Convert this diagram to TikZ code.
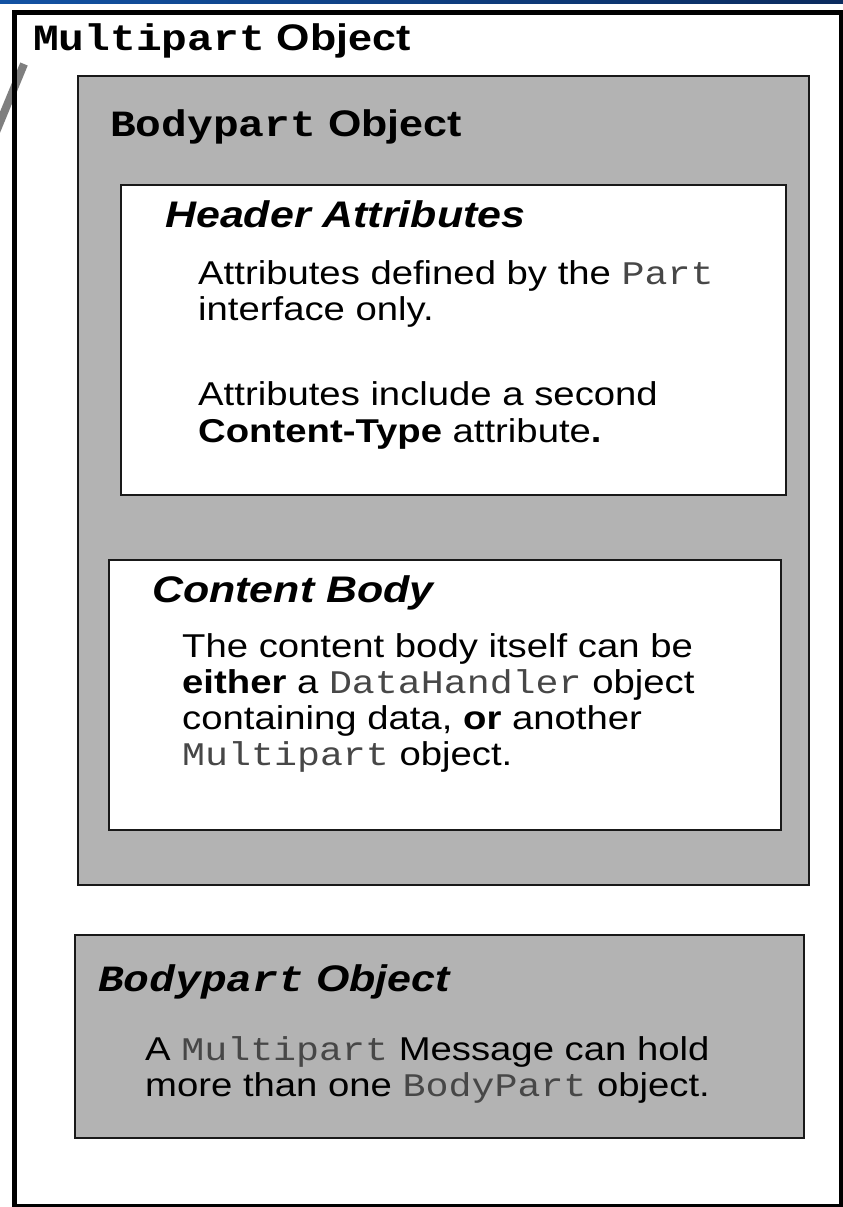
\documentclass[tikz,border=0pt]{standalone}
\usepackage{fontspec}
\setmainfont{Liberation Sans}[FakeStretch=1.16]
\setmonofont{Liberation Mono}[FakeStretch=1.16]
\definecolor{boxgray}{HTML}{B3B3B3}
\definecolor{bandA}{HTML}{1252A3}
\definecolor{bandB}{HTML}{0B2B5E}
\definecolor{slant}{HTML}{7F7F7F}
\newcommand{\mt}[1]{{\ttfamily\color{black!72}#1}}
\begin{document}
\begin{tikzpicture}[x=1pt,y=-1pt,
  graybox/.style={draw=black!90,line width=2pt,fill=boxgray,anchor=north west,inner sep=0pt},
  whitebox/.style={draw=black!90,line width=2pt,fill=white,anchor=north west,inner sep=0pt},
  head/.style={anchor=base west,inner sep=0pt,font=\fontsize{37}{42}\selectfont\bfseries},
  headit/.style={anchor=base west,inner sep=0pt,font=\fontsize{37}{42}\selectfont\bfseries\itshape},
  body/.style={anchor=base west,inner sep=0pt,font=\fontsize{33}{36}\selectfont}]
\useasboundingbox (0,0) rectangle (843,1207);
\fill[white] (0,0) rectangle (843,1207);
% top band
\shade[left color=bandA,right color=bandB] (0,0) rectangle (843,4);
% slanted grey stroke
\coordinate (s1) at (-4,132);
\coordinate (s2) at (24,64);
\draw[slant,line width=8pt] (s1) -- (s2);
% outer frame
\node[draw=black,line width=5pt,fill=none,anchor=north west,inner sep=0pt,
      minimum width=827pt,minimum height=1194pt] (outer) at (12,10) {};
\node[head] (t0) at (33,51) {\texttt{Multipart} Object};
% first bodypart
\node[graybox,minimum width=731pt,minimum height=809pt] (bp1) at (77,75) {};
\node[head] (t1) at (110,136) {\texttt{Bodypart} Object};
\node[whitebox,minimum width=665pt,minimum height=310pt] (hdr) at (120,184) {};
\node[headit] (t2) at (165,227) {Header Attributes};
\node[body] (l1) at (198,284) {Attributes defined by the \mt{Part}};
\node[body] (l2) at (198,320) {interface only.};
\node[body] (l3) at (198,405) {Attributes include a second};
\node[body] (l4) at (198,442) {\textbf{Content-Type} attribute\textbf{.}};
\node[whitebox,minimum width=672pt,minimum height=270pt] (cb) at (108,559) {};
\node[headit] (t3) at (152,602) {Content Body};
\node[body] (c1) at (182,657) {The content body itself can be};
\node[body] (c2) at (182,693) {\textbf{either} a \mt{DataHandler} object};
\node[body] (c3) at (182,729) {containing data, \textbf{or} another};
\node[body] (c4) at (182,765) {\mt{Multipart} object.};
% second bodypart
\node[graybox,minimum width=729pt,minimum height=203pt] (bp2) at (74,934) {};
\node[headit] (t4) at (98,991) {\texttt{Bodypart} Object};
\node[body] (m1) at (145,1060) {A \mt{Multipart} Message can hold};
\node[body] (m2) at (145,1096) {more than one \mt{BodyPart} object.};
\end{tikzpicture}
\end{document}
